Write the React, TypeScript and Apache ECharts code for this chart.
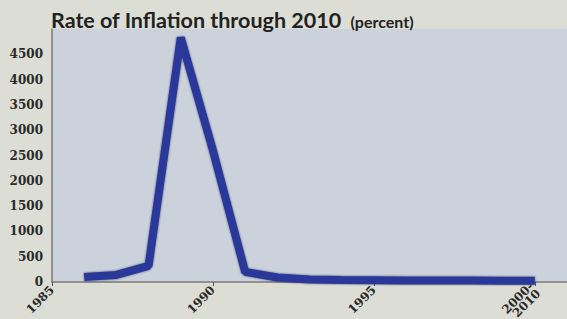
import React, { useEffect, useRef } from "react";
import * as echarts from "echarts";

const titleMain = "Rate of Inflation through 2010";
const titleUnit = "(percent)";
const years = [1986, 1987, 1988, 1989, 1990, 1991, 1992, 1993, 1994, 1995, 1996, 1997, 1998, 1999, 2000];
const inflation = [100, 140, 320, 4830, 2600, 200, 90, 50, 40, 35, 30, 30, 28, 25, 25];
const xTickLabels: Record<number, string> = { 1985: "1985", 1990: "1990", 1995: "1995", 2000: "2000-\n2010" };

export default function App() {
  const ref = useRef<HTMLDivElement>(null);
  useEffect(() => {
    if (!ref.current) return;
    const chart = echarts.init(ref.current, undefined, { renderer: "svg" });
    chart.setOption({
      animation: false,
      backgroundColor: "#dcddd5",
      title: {
        left: 46,
        top: 4,
        text: `{a|${titleMain}} {b|${titleUnit}}`,
        textStyle: {
          rich: {
            a: { fontFamily: "Lato", fontWeight: "bold", fontSize: 21.5, color: "#222" },
            b: { fontFamily: "Lato", fontWeight: "bold", fontSize: 16, color: "#222", padding: [3, 0, 0, 4] },
          },
        },
      },
      grid: {
        left: 52,
        right: 0,
        top: 29,
        bottom: 37,
        show: true,
        backgroundColor: "#cbd2db",
        borderWidth: 0,
        outerBoundsMode: "none",
        containLabel: false,
      },
      xAxis: {
        type: "value",
        min: 1985,
        max: 2001,
        interval: 5,
        splitLine: { show: false },
        axisLine: { show: true, lineStyle: { color: "#7a7a7a", width: 1.5 } },
        axisTick: { show: true, length: 4, lineStyle: { color: "#555" } },
        axisLabel: {
          rotate: 45,
          margin: 6,
          fontFamily: "DejaVu Serif",
          fontWeight: "bold",
          fontSize: 12,
          color: "#2a2a2a",
          lineHeight: 10,
          showMaxLabel: false,
          formatter: (v: number) => xTickLabels[v] ?? "",
        },
      },
      yAxis: {
        type: "value",
        min: 0,
        max: 5000,
        interval: 500,
        splitLine: { show: false },
        axisLine: { show: true, lineStyle: { color: "#7a7a7a", width: 1.5 } },
        axisTick: { show: false },
        axisLabel: {
          margin: 9,
          fontFamily: "DejaVu Serif",
          fontWeight: "bold",
          fontSize: 12,
          color: "#2a2a2a",
          formatter: (v: number) => (v === 5000 ? "" : String(v)),
        },
      },
      series: [
        {
          type: "line",
          data: years.map((y, i) => [y, inflation[i]]),
          symbol: "none",
          lineStyle: {
            color: "#2a379a",
            width: 8,
            join: "bevel",
            cap: "butt",
            shadowColor: "rgba(10,15,60,0.6)",
            shadowBlur: 2,
          },
        },
      ],
    });
    return () => chart.dispose();
  }, []);
  return <div ref={ref} style={{ position: "fixed", left: 0, top: 0, width: 567, height: 319 }} />;
}
